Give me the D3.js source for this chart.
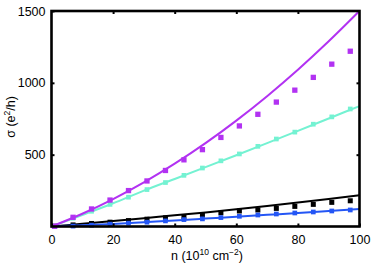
<!DOCTYPE html>
<html>
<head>
<meta charset="utf-8">
<script src="https://cdn.jsdelivr.net/npm/d3@7"></script>
<style>
  html, body { margin: 0; padding: 0; background: #fff; }
  svg { display: block; font-family: "Liberation Sans", Arial, sans-serif; }
</style>
</head>
<body>
<div id="chart"></div>
<script>
// measured points (n in 1e10 cm^-2, sigma in e^2/h)
const pointN = [1, 7, 13, 19, 25, 31, 37, 43, 49, 55, 61, 67, 73, 79, 85, 91, 97];
const purplePts = [2, 64, 122, 184, 250, 317, 390, 464, 535, 620, 700, 781, 866, 949, 1038, 1130, 1220];
const cyanPts   = [2, 58, 106, 154, 204, 257, 306, 356, 407, 457, 505, 558, 609, 657, 712, 763, 818];
const blackPts  = [2, 11, 21, 30, 41, 51, 60, 69, 80, 96, 108, 115, 126, 140, 154, 168, 179];
const bluePts   = [1, 3, 9, 16, 23, 30, 39, 48, 53, 62, 71, 80, 87, 94, 101, 108, 115];

// theory curves, read every 10 units
const curveN = [0, 10, 20, 30, 40, 50, 60, 70, 80, 90, 100];
const purpleLine = [0, 89, 191, 307, 437, 580, 737, 907, 1091, 1289, 1500];
const cyanLine   = [0, 80, 162, 250, 331, 413, 496, 580, 666, 752, 838];
const blackLine  = [0, 19, 38, 58, 78, 98, 120, 143, 167, 192, 218];
const blueLine   = [0, 9, 18, 30, 42, 55, 68, 81, 94, 108, 122];

const xTicks = [0, 20, 40, 60, 80, 100];
const yTicks = [500, 1000, 1500];

const W = 374, H = 266;
const plot = { left: 51.5, right: 359.5, top: 11, bottom: 226.5 };

const svg = d3.select('#chart').append('svg')
    .attr('width', W)
    .attr('height', H);

const x = d3.scaleLinear().domain([0, 100]).range([plot.left, plot.right]);
const y = d3.scaleLinear().domain([0, 1500]).range([plot.bottom, plot.top]);

const series = [
    { pts: blackPts, line: blackLine, color: '#000000', size: 5 },
    { pts: bluePts, line: blueLine, color: '#2456f5', size: 4.7 },
    { pts: cyanPts, line: cyanLine, color: '#74f2d2', size: 4.7 },
    { pts: purplePts, line: purpleLine, color: '#b232f2', size: 5.3 },
];

const line = d3.line()
    .x((d, i) => x(curveN[i]))
    .y(d => y(d))
    .curve(d3.curveMonotoneX);

series.forEach(s => {
    svg.append('g').selectAll('rect')
        .data(s.pts)
        .enter()
        .append('rect')
        .attr('x', (d, i) => x(pointN[i]) - s.size / 2)
        .attr('y', d => y(d) - s.size / 2)
        .attr('width', s.size)
        .attr('height', s.size)
        .attr('fill', s.color);

    svg.append('path')
        .datum(s.line)
        .attr('fill', 'none')
        .attr('stroke', s.color)
        .attr('stroke-width', 2)
        .attr('d', line);
});

// axes: bottom/left with labels, top/right ticks only, ticks pointing in
const tickLen = 3;
svg.append('g')
    .attr('transform', `translate(0,${plot.bottom})`)
    .call(d3.axisBottom(x).tickValues(xTicks).tickSize(-tickLen).tickPadding(9)
        .tickFormat(d3.format('d')).tickSizeOuter(0));
svg.append('g')
    .attr('transform', `translate(0,${plot.top})`)
    .call(d3.axisTop(x).tickValues([20, 40, 60, 80]).tickSize(-tickLen).tickFormat('').tickSizeOuter(0));
svg.append('g')
    .attr('transform', `translate(${plot.left},0)`)
    .call(d3.axisLeft(y).tickValues(yTicks).tickSize(-tickLen).tickPadding(6)
        .tickFormat(d3.format('d')).tickSizeOuter(0));
svg.append('g')
    .attr('transform', `translate(${plot.right},0)`)
    .call(d3.axisRight(y).tickValues([500, 1000]).tickSize(-tickLen).tickFormat('').tickSizeOuter(0));

svg.selectAll('.domain').remove();
svg.selectAll('.tick line').attr('stroke', '#000').attr('stroke-width', 2);
svg.selectAll('.tick text')
    .attr('fill', '#000')
    .style('font-size', '12.5px')
    .style('font-family', '"Liberation Sans", Arial, sans-serif');

// frame
svg.append('rect')
    .attr('x', plot.left)
    .attr('y', plot.top)
    .attr('width', plot.right - plot.left)
    .attr('height', plot.bottom - plot.top)
    .attr('fill', 'none')
    .attr('stroke', '#000')
    .attr('stroke-width', 2.6);

// axis titles
const xTitle = svg.append('text')
    .attr('x', 207)
    .attr('y', 260)
    .attr('text-anchor', 'middle')
    .style('font-size', '12.5px');
xTitle.append('tspan').text('n (10');
xTitle.append('tspan').attr('dy', -5).style('font-size', '8.5px').text('10');
xTitle.append('tspan').attr('dy', 5).text(' cm');
xTitle.append('tspan').attr('dy', -5).style('font-size', '8.5px').text('\u22122');
xTitle.append('tspan').attr('dy', 5).text(')');

const yTitle = svg.append('text')
    .attr('transform', 'translate(15,117) rotate(-90)')
    .attr('text-anchor', 'middle')
    .style('font-size', '12.5px');
yTitle.append('tspan').text('\u03c3 (e');
yTitle.append('tspan').attr('dy', -5).style('font-size', '8.5px').text('2');
yTitle.append('tspan').attr('dy', 5).text('/h)');
</script>
</body>
</html>
